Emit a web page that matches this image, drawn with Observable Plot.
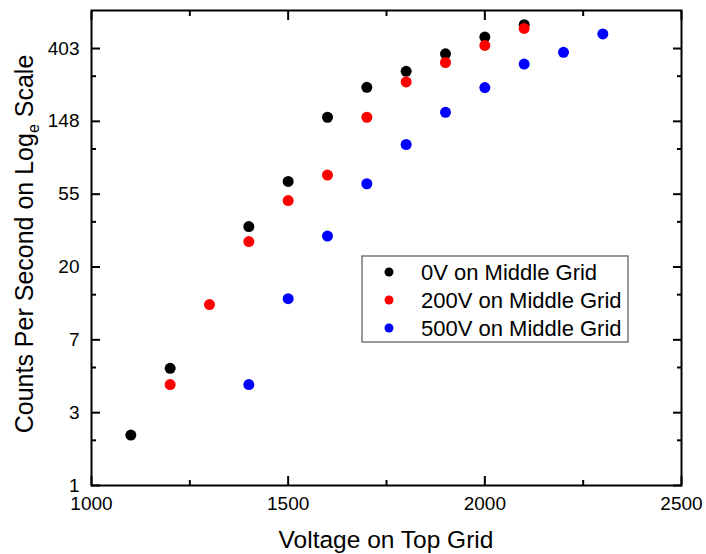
<!DOCTYPE html>
<html>
<head>
<meta charset="utf-8">
<script src="https://cdn.jsdelivr.net/npm/d3@7"></script>
<script src="https://cdn.jsdelivr.net/npm/@observablehq/plot@0.6"></script>
<style>
  body { margin: 0; background: #fff; }
  #chart { width: 706px; height: 554px; }
</style>
</head>
<body>
<div id="chart"></div>
<script>
// Counts per second vs. top-grid voltage, for three middle-grid voltages
const voltages0V = [1100, 1200, 1400, 1500, 1600, 1700, 1800, 1900, 2000, 2100];
const counts0V = [2, 5, 35, 65, 157, 237, 295, 375, 472, 560];

const voltages200V = [1200, 1300, 1400, 1500, 1600, 1700, 1800, 1900, 2000, 2100];
const counts200V = [4, 12, 28.5, 50, 71, 157, 255, 333, 421, 532];

const voltages500V = [1400, 1500, 1600, 1700, 1800, 1900, 2000, 2100, 2200, 2300];
const counts500V = [4, 13, 30.7, 63, 108, 168, 236, 326, 383, 493];

const seriesNames = ["0V on Middle Grid", "200V on Middle Grid", "500V on Middle Grid"];
const seriesColors = ["#000000", "#ff0000", "#0000ff"];

const xTicks = [1000, 1500, 2000, 2500];
const xMinorTicks = [1250, 1750, 2250];
// y ticks sit at whole powers of e; labels are the rounded values
const yTickLabels = ["1", "3", "7", "20", "55", "148", "403"];

const xLabel = "Voltage on Top Grid";
const yLabelMain = "Counts Per Second on Log";
const yLabelSub = "e";
const yLabelTail = " Scale";

// ---- build the point table ----
const seriesVoltages = [voltages0V, voltages200V, voltages500V];
const seriesCounts = [counts0V, counts200V, counts500V];
const points = [];
seriesNames.forEach((name, s) => {
  seriesVoltages[s].forEach((v, i) => points.push({voltage: v, count: seriesCounts[s][i], series: name}));
});

const yTicks = yTickLabels.map((_, k) => Math.exp(k));
// minor ticks halfway (linearly) between neighbouring major ticks
const yMinorTicks = yTicks.slice(0, -1).map((t, k) => (t + yTicks[k + 1]) / 2);

const W = 706, H = 554;
const M = {left: 91, right: 25, top: 10, bottom: 69};
const FW = W - M.left - M.right;   // frame width
const FONT = "'Liberation Sans', Arial, Helvetica, sans-serif";
const MAJOR = 9, MINOR = 5;
const blank = () => "";

const plot = Plot.plot({
  width: W,
  height: H,
  marginLeft: M.left,
  marginRight: M.right,
  marginTop: M.top,
  marginBottom: M.bottom,
  style: {fontFamily: FONT, fontSize: "19px", color: "#000", background: "#fff", overflow: "visible"},
  x: {domain: [1000, 2500]},
  y: {type: "log", base: Math.E, domain: [1, 680]},
  color: {domain: seriesNames, range: seriesColors},
  marks: [
    // labelled axes; a negative tick size turns the ticks inward
    Plot.axisX({ticks: xTicks, tickSize: -MAJOR, tickPadding: 11 + MAJOR, strokeWidth: 2,
      tickFormat: d => String(d), label: null, fontSize: 19}),
    Plot.axisY({ticks: yTicks, tickSize: -MAJOR, tickPadding: 12 + MAJOR, strokeWidth: 2,
      tickFormat: d => yTickLabels[Math.round(Math.log(d))], label: null, fontSize: 19}),

    // minor ticks, and mirrored ticks on the top and right edges
    Plot.axisX({ticks: xMinorTicks, tickSize: -MINOR, strokeWidth: 2, tickFormat: blank, label: null}),
    Plot.axisY({ticks: yMinorTicks, tickSize: -MINOR, strokeWidth: 2, tickFormat: blank, label: null}),
    Plot.axisX({anchor: "top", ticks: xTicks, tickSize: -MAJOR, strokeWidth: 2, tickFormat: blank, label: null}),
    Plot.axisX({anchor: "top", ticks: xMinorTicks, tickSize: -MINOR, strokeWidth: 2, tickFormat: blank, label: null}),
    Plot.axisY({anchor: "right", ticks: yTicks, tickSize: -MAJOR, strokeWidth: 2, tickFormat: blank, label: null}),
    Plot.axisY({anchor: "right", ticks: yMinorTicks, tickSize: -MINOR, strokeWidth: 2, tickFormat: blank, label: null}),

    Plot.dot(points, {x: "voltage", y: "count", fill: "series", r: 5.5}),
    Plot.frame({stroke: "#000", strokeWidth: 2})
  ]
});

const svg = d3.select(plot);

// axis titles
svg.append("text")
  .attr("x", M.left + FW / 2).attr("y", 548)
  .attr("text-anchor", "middle")
  .attr("font-size", 24.5)
  .attr("fill", "#000")
  .text(xLabel);

const yTitle = svg.append("text")
  .attr("transform", "translate(33,244) rotate(-90)")
  .attr("text-anchor", "middle")
  .attr("font-size", 25)
  .attr("fill", "#000");
yTitle.append("tspan").text(yLabelMain);
yTitle.append("tspan").attr("font-size", 16).attr("dy", 6).text(yLabelSub);
yTitle.append("tspan").attr("dy", -6).text(yLabelTail);

// legend box inside the plotting area
const legend = svg.append("g").attr("transform", "translate(362,256)");
legend.append("rect")
  .attr("width", 266).attr("height", 86)
  .attr("fill", "#fff").attr("stroke", "#555").attr("stroke-width", 1.2);
seriesNames.forEach((name, i) => {
  const cy = 16 + i * 28;
  legend.append("circle").attr("cx", 27).attr("cy", cy).attr("r", 4.5).attr("fill", seriesColors[i]);
  legend.append("text")
    .attr("x", 59).attr("y", cy).attr("dy", "0.36em")
    .attr("text-anchor", "start")
    .attr("font-size", 22).attr("fill", "#000")
    .text(name);
});

document.getElementById("chart").appendChild(plot);
</script>
</body>
</html>
